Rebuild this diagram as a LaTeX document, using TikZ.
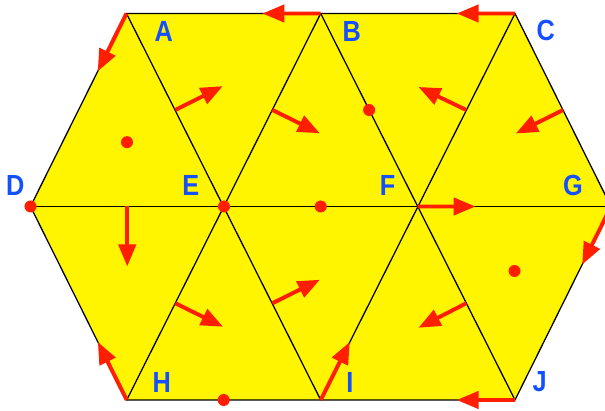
\documentclass[tikz,border=0pt]{standalone}
\usepackage{fontspec}
\setmainfont{Liberation Sans}
\usepackage{graphicx}
\usetikzlibrary{arrows.meta,calc}
\definecolor{amarillo}{RGB}{255,245,0}
\definecolor{rojo}{RGB}{255,30,0}
\definecolor{azul}{RGB}{20,80,255}
\newcommand{\alta}[1]{\scalebox{1}[1.15]{#1}}
\begin{document}
\begin{tikzpicture}[x=0.025cm, y=-0.025cm]
    % Estilo para las etiquetas de los vértices
    \tikzstyle{label_style} = [inner sep=0pt, text=azul, font=\fontsize{18}{18}\selectfont\bfseries]

    % Estilo para las aristas
    \tikzstyle{edge_style} = [-, line width=0.9pt, draw=black]

    % Estilo para las flechas
    \tikzstyle{arrow_style} = [-{Triangle[length=0.55cm, width=0.43cm]}, line width=2.8pt, draw=rojo]

    % Estilo para los puntos
    \tikzstyle{dot_style} = [circle, fill=rojo, inner sep=0pt, minimum size=0.3cm]

    \useasboundingbox (0,0) rectangle (605,411);

    % Vértices de la malla
    \coordinate (A) at (126.5, 13.5);
    \coordinate (B) at (320.7, 13.5);
    \coordinate (C) at (515, 13.5);
    \coordinate (D) at (30.5, 206.5);
    \coordinate (E) at (224, 206.5);
    \coordinate (F) at (417.5, 206.5);
    \coordinate (G) at (611, 206.5);
    \coordinate (H) at (126.7, 400);
    \coordinate (I) at (320.7, 400);
    \coordinate (J) at (515, 400);

    % Hexágono y triángulos
    \filldraw[edge_style, fill=amarillo] (A) -- (B) -- (C) -- (G) -- (J) -- (I) -- (H) -- (D) -- cycle;
    \draw[edge_style] (D) -- (G);
    \draw[edge_style] (A) -- (I);
    \draw[edge_style] (B) -- (J);
    \draw[edge_style] (B) -- (H);
    \draw[edge_style] (C) -- (I);

    % Puntos medios de las aristas
    \coordinate (mAE) at ($(A)!0.5!(E)$);
    \coordinate (mBE) at ($(B)!0.5!(E)$);
    \coordinate (mCF) at ($(C)!0.5!(F)$);
    \coordinate (mCG) at ($(C)!0.5!(G)$);
    \coordinate (mDE) at ($(D)!0.5!(E)$);
    \coordinate (mEH) at ($(E)!0.5!(H)$);
    \coordinate (mEI) at ($(E)!0.5!(I)$);
    \coordinate (mFJ) at ($(F)!0.5!(J)$);

    % Flechas sobre las aristas del borde
    \coordinate (tBA) at ($(B)!0.3!(A)$);
    \coordinate (tCB) at ($(C)!0.3!(B)$);
    \coordinate (tAD) at ($(A)!0.3!(D)$);
    \coordinate (tFG) at ($(F)!0.3!(G)$);
    \coordinate (tHD) at ($(H)!0.3!(D)$);
    \coordinate (tIF) at ($(I)!0.3!(F)$);
    \coordinate (tGJ) at ($(G)!0.3!(J)$);
    \coordinate (tJI) at ($(J)!0.3!(I)$);
    \draw[arrow_style] (B) -- (tBA);
    \draw[arrow_style] (C) -- (tCB);
    \draw[arrow_style] (A) -- (tAD);
    \draw[arrow_style] (F) -- (tFG);
    \draw[arrow_style] (H) -- (tHD);
    \draw[arrow_style] (I) -- (tIF);
    \draw[arrow_style] (G) -- (tGJ);
    \draw[arrow_style] (J) -- (tJI);

    % Flechas normales desde los puntos medios
    \coordinate (nAE) at ($(mAE)+(47.5,-23.8)$);
    \coordinate (nBE) at ($(mBE)+(47.5,23.3)$);
    \coordinate (nCF) at ($(mCF)+(-47.8,-23)$);
    \coordinate (nCG) at ($(mCG)+(-47.2,23.5)$);
    \coordinate (nDE) at ($(mDE)+(0,60)$);
    \coordinate (nEH) at ($(mEH)+(47.7,23.5)$);
    \coordinate (nEI) at ($(mEI)+(47.5,-23.5)$);
    \coordinate (nFJ) at ($(mFJ)+(-47.8,24.5)$);
    \draw[arrow_style] (mAE) -- (nAE);
    \draw[arrow_style] (mBE) -- (nBE);
    \draw[arrow_style] (mCF) -- (nCF);
    \draw[arrow_style] (mCG) -- (nCG);
    \draw[arrow_style] (mDE) -- (nDE);
    \draw[arrow_style] (mEH) -- (nEH);
    \draw[arrow_style] (mEI) -- (nEI);
    \draw[arrow_style] (mFJ) -- (nFJ);

    % Puntos rojos
    \node[dot_style] (pD) at (D) {};
    \node[dot_style] (pE) at (E) {};
    \node[dot_style] (pADE) at ($(A)!0.5!(D)!1/3!(E)$) {};
    \node[dot_style] (pEF) at ($(E)!0.5!(F)$) {};
    \node[dot_style] (pBF) at ($(B)!0.5!(F)$) {};
    \node[dot_style] (pHI) at ($(H)!0.5!(I)$) {};
    \node[dot_style] (pFGJ) at ($(F)!0.5!(G)!1/3!(J)$) {};

    % Etiquetas de los vértices
    \node[label_style] (lA) at (163.7, 31) {\alta{A}};
    \node[label_style] (lB) at (351.7, 31) {\alta{B}};
    \node[label_style] (lC) at (545.8, 30.7) {\alta{C}};
    \node[label_style] (lD) at (15.3, 185.8) {\alta{D}};
    \node[label_style] (lE) at (190.8, 185.8) {\alta{E}};
    \node[label_style] (lF) at (387.5, 185) {\alta{F}};
    \node[label_style] (lG) at (573, 185) {\alta{G}};
    \node[label_style] (lH) at (161.7, 382) {\alta{H}};
    \node[label_style] (lI) at (350, 382) {\alta{I}};
    \node[label_style] (lJ) at (539.7, 382) {\alta{J}};

\end{tikzpicture}
\end{document}
